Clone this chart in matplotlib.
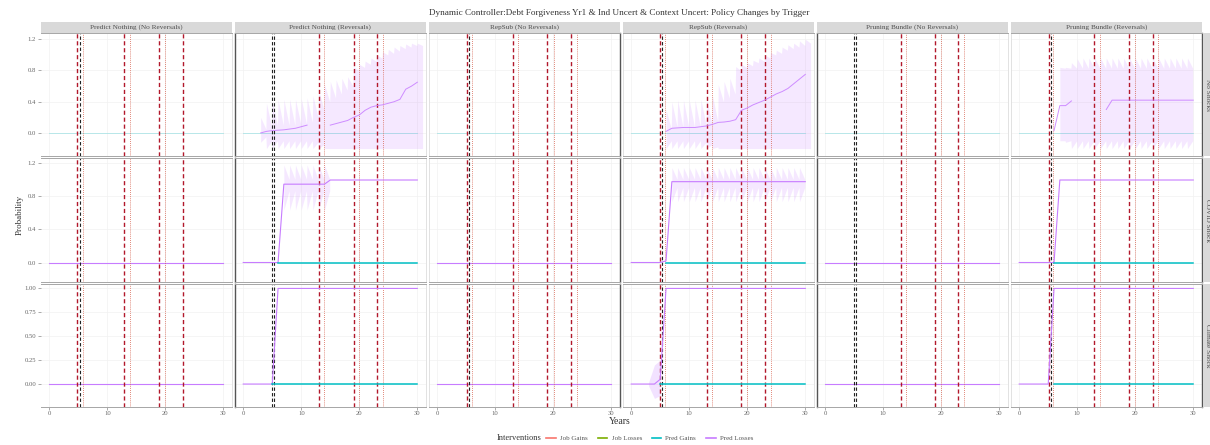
import numpy as np
import matplotlib
matplotlib.use("Agg")
import matplotlib.pyplot as plt
from matplotlib.lines import Line2D
from matplotlib.patches import Rectangle

plt.rcParams['font.family'] = ['Liberation Serif', 'DejaVu Serif']

# ---------- facet labels ----------
col_titles = ["Predict Nothing (No Reversals)", "Predict Nothing (Reversals)",
              "RepSub (No Reversals)", "RepSub (Reversals)",
              "Pruning Bundle (No Reversals)", "Pruning Bundle (Reversals)"]
row_titles = ["No Shocks", "COVID Shock", "Climate Shock"]
title = "Dynamic Controller:Debt Forgiveness Yr1 & Ind Uncert & Context Uncert: Policy Changes by Trigger"

legend_labels = ["Job Gains", "Job Losses", "Pred Gains", "Pred Losses"]
legend_colors = ["#F8766D", "#7CAE00", "#00BFC4", "#C77CFF"]

# ---------- policy change years (one list per column) ----------
trigger_red = [[4.85, 12.9, 18.9, 23.0], [13.0, 19.05, 23.0], [5.1, 13.0, 19.0, 23.1],
               [4.95, 13.0, 19.0, 23.0], [13.05, 19.0, 22.9], [5.05, 12.95, 18.95, 23.0]]
trigger_black = [[5.3], [4.95, 5.35], [5.5], [5.35], [4.9, 5.3], [5.45]]
trigger_dot = [[5.75, 13.85, 19.9], [14.0, 20.0, 24.1], [6.0, 14.0, 20.05, 24.1],
               [5.8, 14.0, 20.0, 24.05], [13.95, 19.95, 23.95], [5.9, 13.95, 20.0, 24.0]]

years = np.arange(0, 31)

# ---------- No Shocks ----------
ns_pn_years = np.arange(3, 31)
ns_pn_loss = [0.0, 0.02, 0.03, 0.035, 0.04, 0.05, 0.06, 0.08, 0.1, np.nan, np.nan, np.nan,
              0.1, 0.12, 0.14, 0.16, 0.2, 0.23, 0.29, 0.33, 0.35, 0.36, 0.38, 0.4, 0.43,
              0.56, 0.6, 0.65]
ns_pn_hi = [0.2, 0.38, 0.42, 0.43, 0.43, 0.43, 0.43, 0.44, 0.45, 0.48, 0.55, 0.62, 0.66, 0.68,
            0.7, 0.72, 0.85, 0.88, 0.92, 0.96, 1.0, 1.04, 1.07, 1.1, 1.12, 1.14, 1.15, 1.15]
ns_pn_hi_dip = [0.05, 0.08, 0.1, 0.1, 0.1, 0.1, 0.12, 0.12, 0.14, 0.2, 0.3, 0.4, 0.45, 0.5,
                0.55, 0.6, 0.8, 0.84, 0.88, 0.92, 0.96, 1.0, 1.02, 1.05, 1.08, 1.1, 1.12, 1.12]
ns_pn_lo = [-0.12, -0.2, -0.2, -0.2, -0.2, -0.2, -0.2, -0.2, -0.2, -0.2, -0.2, -0.2, -0.2, -0.2,
            -0.2, -0.2, -0.2, -0.2, -0.2, -0.2, -0.2, -0.2, -0.2, -0.2, -0.2, -0.2, -0.2, -0.2]
ns_pn_lo_dip = [-0.05, -0.1, -0.1, -0.1, -0.1, -0.1, -0.1, -0.1, -0.1, -0.12, -0.15, -0.2, -0.2,
                -0.2, -0.2, -0.2, -0.2, -0.2, -0.2, -0.2, -0.2, -0.2, -0.2, -0.2, -0.2, -0.2,
                -0.2, -0.2]

ns_rs_years = np.arange(6, 31)
ns_rs_loss = [0.02, 0.06, 0.065, 0.07, 0.07, 0.07, 0.08, 0.09, 0.11, 0.135, 0.14, 0.15, 0.17,
              0.29, 0.32, 0.36, 0.39, 0.42, 0.46, 0.5, 0.53, 0.57, 0.63, 0.69, 0.75]
ns_rs_hi = [0.3, 0.4, 0.42, 0.42, 0.42, 0.42, 0.43, 0.45, 0.48, 0.62, 0.66, 0.7, 0.85, 0.88,
            0.9, 0.93, 0.96, 1.0, 1.03, 1.06, 1.1, 1.13, 1.15, 1.18, 1.2]
ns_rs_hi_dip = [0.05, 0.08, 0.08, 0.08, 0.08, 0.08, 0.1, 0.12, 0.15, 0.4, 0.45, 0.5, 0.8, 0.84,
                0.86, 0.9, 0.92, 0.96, 1.0, 1.02, 1.06, 1.08, 1.1, 1.12, 1.15]
ns_rs_lo = [-0.2] * 25
ns_rs_lo_dip = [-0.1, -0.1, -0.1, -0.1, -0.1, -0.1, -0.12, -0.15, -0.18, -0.2, -0.2, -0.2,
                -0.2, -0.2, -0.2, -0.2, -0.2, -0.2, -0.2, -0.2, -0.2, -0.2, -0.2, -0.2, -0.2]

ns_pb_years = np.arange(6, 31)
ns_pb_loss = [0.03, 0.35, 0.35, 0.41, np.nan, np.nan, np.nan, np.nan, np.nan, 0.3,
              0.42, 0.42, 0.42, 0.42, 0.42, 0.42, 0.42, 0.42, 0.42, 0.42, 0.42, 0.42, 0.42,
              0.42, 0.42]
ns_pb_band_years = np.arange(7, 30)
ns_pb_hi = [0.84, 0.84, 0.9, 0.95, 0.96, 0.96, 0.96, 0.96, 0.96, 0.96, 0.96, 0.96, 0.96,
            0.96, 0.96, 0.96, 0.96, 0.96, 0.96, 0.96, 0.96, 0.96, 0.96]
ns_pb_hi_dip = [0.83] * 23
ns_pb_lo = [-0.1, -0.12, -0.2, -0.2, -0.2, -0.2, -0.2, -0.2, -0.2, -0.2, -0.2, -0.2, -0.2,
            -0.2, -0.2, -0.2, -0.2, -0.2, -0.2, -0.2, -0.2, -0.2, -0.2]
ns_pb_lo_dip = [-0.1] * 23

# ---------- COVID Shock ----------
cv_pn_loss = [0, 0, 0, 0, 0, 0, 0, 0.94, 0.94, 0.94, 0.94, 0.94, 0.94, 0.94, 0.94,
              0.99, 0.99, 0.99, 0.99, 0.99, 0.99, 0.99, 0.99, 0.99, 0.99, 0.99, 0.99, 0.99,
              0.99, 0.99, 0.99]
cv_pn_band_years = np.arange(7, 15)
cv_pn_hi = [1.17] * 8
cv_pn_hi_dip = [1.0] * 8
cv_pn_lo = [0.63] * 8
cv_pn_lo_dip = [0.86] * 8

cv_rs_loss = [0, 0, 0, 0, 0, 0, 0.02] + [0.97] * 24
cv_rs_band_years = np.arange(7, 30)
cv_rs_hi = [1.14] * 23
cv_rs_hi_dip = [1.0] * 23
cv_rs_lo = [0.73] * 23
cv_rs_lo_dip = [0.9] * 23

cv_pb_loss = [0, 0, 0, 0, 0, 0, 0] + [0.99] * 24

# ---------- Climate Shock ----------
cl_pn_loss = [0, 0, 0, 0, 0, 0] + [1.0] * 25
cl_rs_loss = [0, 0, 0, 0, 0, 0.05] + [1.0] * 25
cl_rs_band_years = [3, 4, 5]
cl_rs_hi = [0.02, 0.2, 0.25]
cl_rs_lo = [-0.02, -0.15, -0.12]
cl_pb_loss = [0, 0, 0, 0, 0, 0] + [1.0] * 25

# Pred Gains stays at zero once a policy is in place
gain_start = {(1, 1): 6, (1, 3): 6, (1, 5): 6, (2, 1): 5, (2, 3): 5, (2, 5): 6}

# ---------- y scales per row ----------
row_ylim = [(-0.30, 1.28), (-0.23, 1.25), (-0.24, 1.05)]
row_yticks = [[0.0, 0.4, 0.8, 1.2], [0.0, 0.4, 0.8, 1.2], [0.0, 0.25, 0.5, 0.75, 1.0]]
row_ylabels = [["0.0", "0.4", "0.8", "1.2"], ["0.0", "0.4", "0.8", "1.2"],
               ["0.00", "0.25", "0.50", "0.75", "1.00"]]

purple = "#C77CFF"
cyan = "#00BFC4"
txt_grey = "#4d4d4d"


def zigzag(x, top, top_dip, bot, bot_dip):
    # each year the band starts at its extreme and tapers to the dip value
    xs, yt, yb = [], [], []
    for xi, a, b, c, d in zip(x, top, top_dip, bot, bot_dip):
        xs += [xi, xi + 0.9]
        yt += [a, b]
        yb += [c, d]
    return xs, yt, yb


def band(ax, x, top, top_dip, bot, bot_dip):
    xs, yt, yb = zigzag(x, top, top_dip, bot, bot_dip)
    ax.fill_between(xs, yb, yt, color=purple, alpha=0.17, lw=0)


fig = plt.figure(figsize=(12.1, 4.45), dpi=100)
gs = fig.add_gridspec(3, 6, left=0.0335, right=0.9934, top=0.9258, bottom=0.0854,
                      wspace=0.013, hspace=0.016)

axes = [[fig.add_subplot(gs[r, c]) for c in range(6)] for r in range(3)]

for r in range(3):
    for c in range(6):
        ax = axes[r][c]
        ax.set_xlim(-1.5, 31.5)
        ax.set_ylim(*row_ylim[r])
        ax.grid(True, color="#f2f2f2", lw=0.5)
        ax.set_axisbelow(True)

        # zero lines for the flat series
        if r == 0:
            ax.plot(years, np.zeros(31), color=cyan, lw=0.7, alpha=0.25)
        elif c % 2 == 0:
            ax.plot(years, np.zeros(31), color=purple, lw=0.8)

        # policy change markers
        for x in trigger_red[c]:
            ax.axvline(x, color="#b2182b", lw=1.0, ls=(0, (3, 2)))
        for x in trigger_black[c]:
            ax.axvline(x, color="#222222", lw=0.8, ls=(0, (3, 2)))
        for x in trigger_dot[c]:
            ax.axvline(x, color="#d6604d", lw=0.6, ls=(0, (1, 1.5)))

        ax.set_xticks([0, 10, 20, 30])
        ax.set_yticks(row_yticks[r])
        ax.tick_params(length=2, width=0.5, color="#888888", labelsize=4.8,
                       labelcolor="#666666", pad=1.2)
        if c == 0:
            ax.set_yticklabels(row_ylabels[r])
        else:
            ax.tick_params(axis="y", left=False, labelleft=False)
        if r != 2:
            ax.tick_params(axis="x", bottom=False, labelbottom=False)

        for side in ["top", "bottom"]:
            ax.spines[side].set_color("#a6a6a6")
            ax.spines[side].set_linewidth(0.7)
        for side in ["left", "right"]:
            ax.spines[side].set_color("#dddddd")
            ax.spines[side].set_linewidth(0.6)
        if c in (1, 4):
            ax.spines["left"].set_color("#555555")
            ax.spines["left"].set_linewidth(1.0)
        if c in (2, 5):
            ax.spines["right"].set_color("#555555")
            ax.spines["right"].set_linewidth(1.0)
        if c == 0:
            ax.spines["left"].set_visible(False)

# --- No Shocks
ax = axes[0][1]
band(ax, ns_pn_years, ns_pn_hi, ns_pn_hi_dip, ns_pn_lo, ns_pn_lo_dip)
ax.plot(ns_pn_years, ns_pn_loss, color=purple, lw=0.7, alpha=0.85)
ax = axes[0][3]
band(ax, ns_rs_years, ns_rs_hi, ns_rs_hi_dip, ns_rs_lo, ns_rs_lo_dip)
ax.plot(ns_rs_years, ns_rs_loss, color=purple, lw=0.7, alpha=0.85)
ax = axes[0][5]
band(ax, ns_pb_band_years, ns_pb_hi, ns_pb_hi_dip, ns_pb_lo, ns_pb_lo_dip)
ax.plot(ns_pb_years, ns_pb_loss, color=purple, lw=0.7, alpha=0.85)

# --- COVID Shock
ax = axes[1][1]
band(ax, cv_pn_band_years, cv_pn_hi, cv_pn_hi_dip, cv_pn_lo, cv_pn_lo_dip)
ax.plot(years, cv_pn_loss, color=purple, lw=0.8)
ax = axes[1][3]
band(ax, cv_rs_band_years, cv_rs_hi, cv_rs_hi_dip, cv_rs_lo, cv_rs_lo_dip)
ax.plot(years, cv_rs_loss, color=purple, lw=0.8)
axes[1][5].plot(years, cv_pb_loss, color=purple, lw=0.8)

# --- Climate Shock
axes[2][1].plot(years, cl_pn_loss, color=purple, lw=0.8)
ax = axes[2][3]
ax.fill_between(cl_rs_band_years, cl_rs_lo, cl_rs_hi, color=purple, alpha=0.22, lw=0)
ax.plot(years, cl_rs_loss, color=purple, lw=0.8)
axes[2][5].plot(years, cl_pb_loss, color=purple, lw=0.8)

for (r, c), start in gain_start.items():
    gx = np.arange(start, 31)
    axes[r][c].plot(gx, np.zeros(len(gx)), color=cyan, lw=1.1)

# ---------- facet strips ----------
strip_h = 11 / 445
for c in range(6):
    pos = axes[0][c].get_position()
    fig.add_artist(Rectangle((pos.x0, pos.y1), pos.width, strip_h, transform=fig.transFigure,
                             facecolor="#d9d9d9", edgecolor="none"))
    fig.text(pos.x0 + pos.width / 2, pos.y1 + strip_h / 2, col_titles[c], ha="center",
             va="center", fontsize=5.2, color=txt_grey)

for r in range(3):
    pos = axes[r][5].get_position()
    x0 = 1203 / 1210
    fig.add_artist(Rectangle((x0, pos.y0), 0.02, pos.height, transform=fig.transFigure,
                             facecolor="#d9d9d9", edgecolor="none"))
    fig.text(1207.5 / 1210, pos.y0 + pos.height / 2, row_titles[r], rotation=-90,
             ha="center", va="center", fontsize=5.2, color=txt_grey)

# ---------- titles ----------
fig.text(619 / 1210, 1 - 13 / 445, title, ha="center", va="center", fontsize=6.6, color="#333333")
fig.text(20 / 1210, 1 - 215 / 445, "Probability", rotation=90, ha="center", va="center",
         fontsize=6.5, color="#333333")
fig.text(620 / 1210, 1 - 421 / 445, "Years", ha="center", va="center", fontsize=7, color="#333333")

# ---------- legend ----------
fig.text(497 / 1210, 1 - 438 / 445, "Interventions", ha="left", va="center", fontsize=6,
         color="#333333")
handles = [Line2D([0], [0], color=col, lw=1.2) for col in legend_colors]
fig.legend(handles, legend_labels, loc="center left", bbox_to_anchor=(540 / 1210, 1 - 438 / 445),
           ncol=4, frameon=False, fontsize=5, handlelength=1.4, handletextpad=0.6,
           columnspacing=1.4, labelcolor="#555555")

fig.savefig("out.png", dpi=100)
